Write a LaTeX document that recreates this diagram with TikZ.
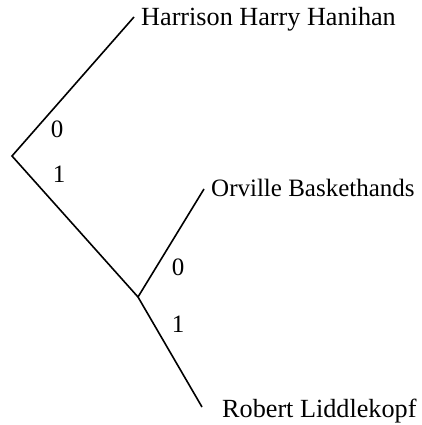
\documentclass[tikz,border=0pt]{standalone}
\usepackage{fontspec}
\setmainfont{Liberation Serif}
\begin{document}
\begin{tikzpicture}[x=1pt,y=-1pt,
  branch/.style={line width=1.6pt},
  leaf/.style={anchor=base west,inner sep=0pt,font=\fontsize{26.2}{31}\selectfont},
  bit/.style={anchor=base,inner sep=0pt,font=\fontsize{25}{30}\selectfont}]
\useasboundingbox (0,0) rectangle (422,425);
\coordinate (root) at (12,156);
\coordinate (mid) at (138,297);
\coordinate (endH) at (134,17);
\coordinate (endO) at (204,189);
\coordinate (endR) at (202,407);
\draw[branch] (endH) -- (root) -- (mid);
\draw[branch] (endO) -- (mid) -- (endR);
\node[leaf] (harrison) at (141,26) {Harrison Harry Hanihan};
\node[leaf,font=\fontsize{25}{30}\selectfont] (orville) at (211,196) {Orville Baskethands};
\node[leaf] (robert) at (222,417) {Robert Liddlekopf};
\node[bit] (b0a) at (57,137) {0};
\node[bit] (b1a) at (59,182) {1};
\node[bit] (b0b) at (178,275) {0};
\node[bit] (b1b) at (178,332) {1};
\end{tikzpicture}
\end{document}
